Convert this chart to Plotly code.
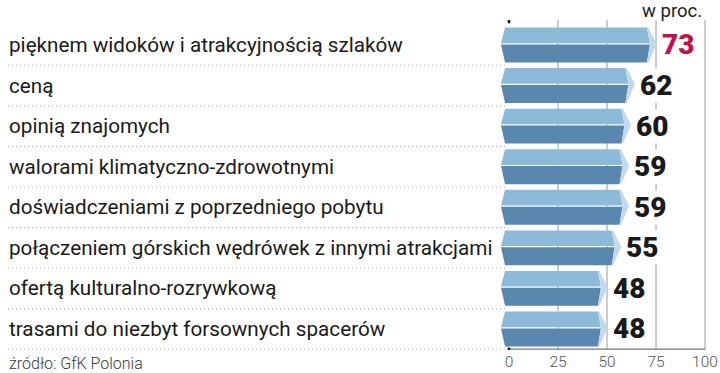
import plotly.graph_objects as go

categories = [
    "pięknem widoków i atrakcyjnością szlaków",
    "ceną",
    "opinią znajomych",
    "walorami klimatyczno-zdrowotnymi",
    "doświadczeniami z poprzedniego pobytu",
    "połączeniem górskich wędrówek z innymi atrakcjami",
    "ofertą kulturalno-rozrywkową",
    "trasami do niezbyt forsownych spacerów",
]
values = [73, 62, 60, 59, 59, 55, 48, 48]
value_colors = ["#c0124a"] + ["#1a1a1a"] * 7
tick_vals = [0, 25, 50, 75, 100]
tick_text = ["0", "25", "50", "75", "100"]
grid_vals = [25, 50, 75, 100]
unit_label = "w proc."
source_label = "źródło: GfK Polonia"

LIGHT = "#8ebada"
DARK = "#5987ae"
FACET = "#c2d9ea"

# geometry (x in data units, y in row units)
HT = 0.43   # half height of bar
MID = -0.03
LEFT_IN, LEFT_PT = -2.0, -4.1

lx, ly, dx, dy, fx, fy = [], [], [], [], [], []
for i, v in enumerate(values):
    top, bot, mid = i - HT, i + HT, i + MID
    # light upper front
    lx += [LEFT_IN, v - 2.6, v - 1.1, LEFT_PT, LEFT_IN, None]
    ly += [top, top, mid - 0.015, mid - 0.015, top, None]
    # dark lower front
    dx += [LEFT_PT, v - 1.1, v - 2.6, LEFT_IN, LEFT_PT, None]
    dy += [mid + 0.015, mid + 0.015, bot, bot, mid + 0.015, None]
    # end facet
    fx += [v - 2.6, v - 1.9, v + 2.3, v - 1.9, v - 2.6, v - 1.1, v - 2.6, None]
    fy += [top, top, mid, bot, bot, mid, top, None]

fig = go.Figure()
fig.add_trace(go.Scatter(x=lx, y=ly, fill="toself", fillcolor=LIGHT, mode="lines",
                         line=dict(width=0), hoverinfo="skip", showlegend=False))
fig.add_trace(go.Scatter(x=dx, y=dy, fill="toself", fillcolor=DARK, mode="lines",
                         line=dict(width=0), hoverinfo="skip", showlegend=False))
fig.add_trace(go.Scatter(x=fx, y=fy, fill="toself", fillcolor=FACET, mode="lines",
                         line=dict(width=0), hoverinfo="skip", showlegend=False))

Y_TOP, Y_BOT = -0.616, 7.518
shapes = []
for g in grid_vals:
    shapes.append(dict(type="line", xref="x", yref="y", x0=g, x1=g, y0=Y_TOP, y1=Y_BOT,
                       line=dict(color="#9a9a9a", width=1), layer="below"))
# dotted separators
for i in range(len(values)):
    yy = i + 0.5 if i < len(values) - 1 else Y_BOT - 0.02
    shapes.append(dict(type="line", xref="paper", yref="y", x0=8 / 720, x1=505 / 720,
                       y0=yy, y1=yy, line=dict(color="#b7a9b5", width=1, dash="1px,3px"),
                       layer="below"))
# bottom axis line
shapes.append(dict(type="line", xref="x", yref="y", x0=0, x1=100, y0=Y_BOT - 0.02, y1=Y_BOT - 0.02,
                   line=dict(color="#777777", width=1.2), layer="below"))
# zero markers
shapes.append(dict(type="line", xref="x", yref="y", x0=0, x1=0, y0=Y_TOP - 0.05, y1=Y_TOP + 0.08,
                   line=dict(color="#111111", width=2.5)))
shapes.append(dict(type="line", xref="x", yref="y", x0=0, x1=0, y0=Y_BOT - 0.06, y1=Y_BOT + 0.1,
                   line=dict(color="#111111", width=2.5)))

annotations = []
for i, (c, v, col) in enumerate(zip(categories, values, value_colors)):
    annotations.append(dict(xref="paper", yref="y", x=7 / 720, y=i, text=c, showarrow=False,
                            xanchor="left", yanchor="middle",
                            font=dict(family="Roboto", size=20.7, color="#1a1a1a")))
    annotations.append(dict(xref="x", yref="y", x=v + 4.3, y=i, text=str(v), showarrow=False,
                            xanchor="left", yanchor="middle", bgcolor="white", borderpad=0,
                            font=dict(family="Roboto", size=28, color=col, weight=900)))
annotations.append(dict(xref="paper", yref="paper", x=704 / 720, y=1 + 9 / 330, text=unit_label,
                        showarrow=False, xanchor="right", yanchor="middle",
                        font=dict(family="Roboto", size=18.5, color="#222222")))
annotations.append(dict(xref="paper", yref="paper", x=7 / 720, y=-13 / 330, text=source_label,
                        showarrow=False, xanchor="left", yanchor="middle",
                        font=dict(family="Roboto", size=16, color="#3a3a3a", weight=300)))

fig.update_layout(
    width=720, height=373, autosize=False,
    margin=dict(l=0, r=0, t=20, b=23),
    paper_bgcolor="white", plot_bgcolor="white",
    shapes=shapes, annotations=annotations,
    xaxis=dict(range=[-509 / 1.96, 211 / 1.96], tickvals=tick_vals, ticktext=tick_text,
               showgrid=False, zeroline=False, showline=False, ticks="",
               tickfont=dict(family="Roboto", size=15.5, color="#555555", weight=300),
               fixedrange=True),
    yaxis=dict(range=[Y_BOT, Y_TOP], visible=False, fixedrange=True),
)

fig.write_html("out.html", config={"displayModeBar": False},
               post_script="document.body.style.margin='0';document.body.style.overflow='hidden';")
